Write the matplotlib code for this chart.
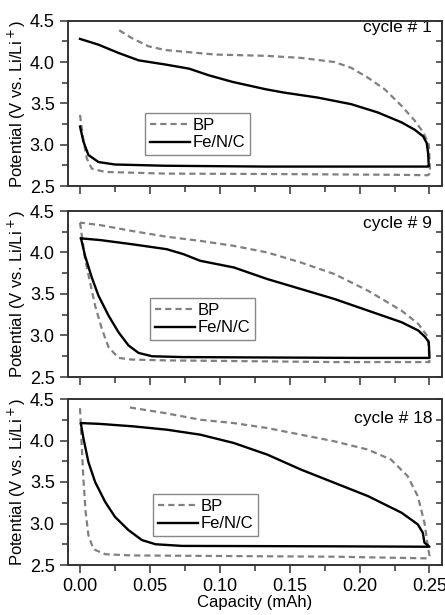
import matplotlib
matplotlib.use("Agg")
import matplotlib.pyplot as plt
from matplotlib.ticker import MultipleLocator

plt.rcParams['font.family'] = ['Liberation Sans', 'DejaVu Sans']

# ---- data (capacity in mAh, potential in V) ----
# cycle 1
c1_fe_x = [0, 0.0024, 0.006, 0.0132, 0.025, 0.061, 0.133, 0.20, 0.249,
           0.2495, 0.249, 0.248, 0.2455, 0.2395, 0.230, 0.213, 0.194, 0.170, 0.146,
           0.133, 0.109, 0.092, 0.078, 0.061, 0.042, 0.0275, 0.0132, 0]
c1_fe_y = [3.22, 3.04, 2.875, 2.79, 2.76, 2.745, 2.735, 2.735, 2.735,
           2.74, 2.90, 3.02, 3.10, 3.18, 3.27, 3.39, 3.49, 3.57, 3.63,
           3.67, 3.76, 3.84, 3.92, 3.97, 4.02, 4.11, 4.21, 4.28]
c1_bp_x = [0, 0.002, 0.0048, 0.0084, 0.018, 0.061, 0.133, 0.182, 0.23, 0.249, 0.2505,
           0.2495, 0.2455, 0.2395, 0.230, 0.218, 0.206, 0.194, 0.182, 0.158, 0.133,
           0.097, 0.061, 0.049, 0.037, 0.0275]
c1_bp_y = [3.36, 3.10, 2.835, 2.71, 2.67, 2.65, 2.645, 2.64, 2.635, 2.63, 2.66,
           3.00, 3.15, 3.29, 3.47, 3.67, 3.81, 3.93, 4.00, 4.05, 4.075,
           4.09, 4.145, 4.19, 4.29, 4.39]

# cycle 9
c9_fe_x = [0.0007, 0.0036, 0.0084, 0.0132, 0.0204, 0.0275, 0.0347, 0.0419, 0.0515, 0.073,
           0.134, 0.20, 0.250,
           0.2495, 0.247, 0.242, 0.230, 0.206, 0.182, 0.158, 0.134, 0.110, 0.086, 0.074,
           0.062, 0.037, 0.0144, 0.0007]
c9_fe_y = [4.17, 3.96, 3.70, 3.48, 3.24, 3.04, 2.88, 2.79, 2.75, 2.74,
           2.735, 2.73, 2.73,
           2.92, 2.98, 3.06, 3.16, 3.30, 3.44, 3.56, 3.68, 3.82, 3.90, 3.98,
           4.04, 4.10, 4.15, 4.17]
c9_bp_x = [0, 0.0036, 0.0072, 0.0108, 0.0156, 0.0204, 0.0275, 0.037, 0.062, 0.182, 0.250,
           0.249, 0.242, 0.230, 0.206, 0.182, 0.158, 0.134, 0.110, 0.086, 0.062,
           0.037, 0.0144, 0]
c9_bp_y = [4.36, 3.92, 3.64, 3.36, 3.08, 2.86, 2.73, 2.71, 2.70, 2.68, 2.68,
           2.98, 3.14, 3.30, 3.54, 3.74, 3.88, 4.00, 4.08, 4.14, 4.19,
           4.26, 4.33, 4.36]

# cycle 18
c18_fe_x = [0.0007, 0.0024, 0.006, 0.0108, 0.018, 0.025, 0.0347, 0.0443, 0.054, 0.073,
            0.182, 0.250,
            0.2464, 0.2452, 0.2416, 0.230, 0.206, 0.182, 0.158, 0.134, 0.110, 0.0861,
            0.0622, 0.0383, 0.0144, 0.0007]
c18_fe_y = [4.195, 4.03, 3.74, 3.50, 3.26, 3.08, 2.92, 2.80, 2.75, 2.73,
            2.725, 2.72,
            2.77, 2.89, 2.99, 3.13, 3.33, 3.49, 3.65, 3.83, 3.97, 4.07,
            4.13, 4.17, 4.20, 4.21]
c18_bp_x = [0, 0.0012, 0.0024, 0.004, 0.006, 0.0096, 0.018, 0.037, 0.086, 0.182, 0.2488, 0.250,
            0.2488, 0.2464, 0.2416, 0.2344, 0.2225, 0.206, 0.182, 0.158, 0.134, 0.110,
            0.0861, 0.061, 0.0347]
c18_bp_y = [4.39, 3.95, 3.54, 3.14, 2.86, 2.69, 2.63, 2.615, 2.61, 2.60, 2.58, 2.61,
            2.73, 3.01, 3.33, 3.57, 3.77, 3.89, 3.99, 4.07, 4.15, 4.21,
            4.25, 4.33, 4.40]

cycles = ["cycle # 1", "cycle # 9", "cycle # 18"]
fe_data = [(c1_fe_x, c1_fe_y), (c9_fe_x, c9_fe_y), (c18_fe_x, c18_fe_y)]
bp_data = [(c1_bp_x, c1_bp_y), (c9_bp_x, c9_bp_y), (c18_bp_x, c18_bp_y)]

# ---- layout (figure fractions measured on the reference) ----
W, H = 445, 615
left, right = 68 / W, 441.5 / W
panel_px = [(20.7, 186), (211, 377), (399, 565)]
label_pos = [(0.975, 0.956), (0.975, 0.926), (0.975, 0.884)]
legend_pos = [(0.206, 0.442), (0.220, 0.476), (0.228, 0.428)]

fig = plt.figure(figsize=(W / 100, H / 100), dpi=100)
gray = '#808080'

for i in range(3):
    top, bot = panel_px[i]
    ax = fig.add_axes([left, 1 - bot / H, right - left, (bot - top) / H])
    bx, by = bp_data[i]
    fx, fy = fe_data[i]
    ax.plot(bx, by, color=gray, lw=1.6, dashes=(2.8, 1.8), label='BP')
    ax.plot(fx, fy, color='black', lw=1.7, label='Fe/N/C')

    ax.set_xlim(-0.0086, 0.2586)
    ax.set_ylim(2.5, 4.5)
    ax.xaxis.set_major_locator(MultipleLocator(0.05))
    ax.xaxis.set_minor_locator(MultipleLocator(0.025))
    ax.yaxis.set_major_locator(MultipleLocator(0.5))
    ax.yaxis.set_minor_locator(MultipleLocator(0.25))
    ax.tick_params(axis='both', which='both', direction='out', top=False, right=False,
                   labelsize=13, color='#333333', width=1.1)
    ax.tick_params(which='major', length=6)
    ax.tick_params(which='minor', length=4)
    ax.set_yticks([2.5, 3.0, 3.5, 4.0, 4.5])
    ax.set_yticklabels(['2.5', '3.0', '3.5', '4.0', '4.5'])
    # inward ticks on the right side
    ax2 = ax.twinx()
    ax2.set_ylim(2.5, 4.5)
    ax2.yaxis.set_major_locator(MultipleLocator(0.5))
    ax2.yaxis.set_minor_locator(MultipleLocator(0.25))
    ax2.tick_params(axis='y', which='both', direction='in', labelright=False,
                    color='#333333', width=1.1, length=4)
    for a in (ax, ax2):
        for s in a.spines.values():
            s.set_linewidth(1.2)
            s.set_color('#333333')

    if i < 2:
        ax.tick_params(axis='x', labelbottom=False)
    else:
        ax.set_xticks([0, 0.05, 0.10, 0.15, 0.20, 0.25])
        ax.set_xticklabels(['0.00', '0.05', '0.10', '0.15', '0.20', '0.25'])
        ax.set_xlabel('Capacity (mAh)', fontsize=12, labelpad=0)

    ax.set_ylabel('Potential (V vs. Li/Li$^+$)', fontsize=12, labelpad=1)
    ax.text(label_pos[i][0], label_pos[i][1], cycles[i], transform=ax.transAxes,
            ha='right', va='center', fontsize=12.5)
    leg = ax.legend(loc='upper left', bbox_to_anchor=legend_pos[i], borderaxespad=0,
                    fontsize=12, handlelength=2.4, handletextpad=0.15,
                    fancybox=False, framealpha=1, edgecolor='#888888',
                    borderpad=0.3, labelspacing=0.15)
    leg.get_frame().set_linewidth(1.0)

fig.savefig('out.png', dpi=100)
